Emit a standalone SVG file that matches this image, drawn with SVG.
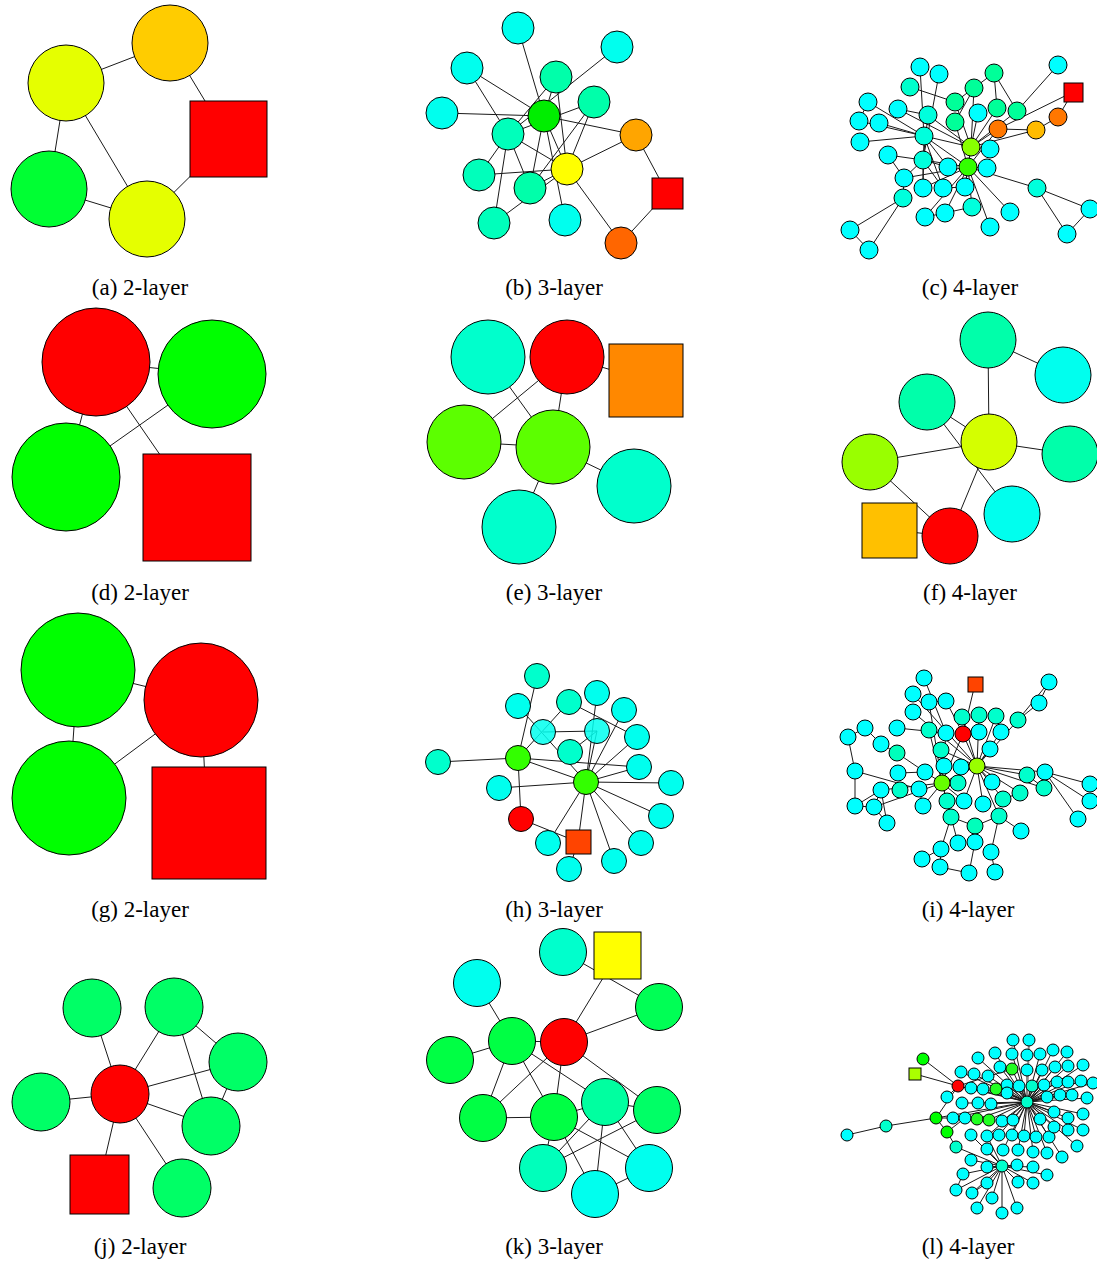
<svg xmlns="http://www.w3.org/2000/svg" width="1097" height="1264" viewBox="0 0 1097 1264">
<style>
.edges line,.edges path{stroke:#1a1a1a;stroke-width:1;fill:none}
.edges .gy{stroke:#888;stroke-width:2}
.nodes circle,.nodes rect{stroke:#000;stroke-width:1}
.cy{fill:#00ffff}.ce{fill:#00ffee}.tq{fill:#00ffcc}.tb{fill:#00ffbb}.ta{fill:#00ffaa}.tg{fill:#00ff99}.td{fill:#00ffdd}
.g0{fill:#00ff00}.g3{fill:#00ff33}.g6{fill:#00ff66}.g4{fill:#00ff44}.rd{fill:#ff0000}
text{font-family:"Liberation Serif","Times New Roman",serif;font-size:23px;text-anchor:middle;fill:#000}
</style>
<rect width="1097" height="1264" fill="#fff"/>
<g class="edges" id="connectors">
<!-- a -->
<line x1="66" y1="83" x2="170" y2="43"/><line x1="170" y1="43" x2="228" y2="139"/><line x1="66" y1="83" x2="49" y2="189"/><line x1="66" y1="83" x2="147" y2="219"/><line x1="49" y1="189" x2="147" y2="219"/><line x1="147" y1="219" x2="228" y2="139"/>
<!-- d -->
<line x1="96" y1="362" x2="212" y2="374"/><line x1="96" y1="362" x2="66" y2="477"/><line x1="66" y1="477" x2="212" y2="374"/><line x1="96" y1="362" x2="165" y2="462"/>
<!-- g -->
<line x1="78" y1="670" x2="201" y2="700"/><line x1="78" y1="670" x2="69" y2="798"/><line x1="69" y1="798" x2="201" y2="700"/><line x1="201" y1="700" x2="205" y2="780"/>
<!-- j -->
<path d="M120 1094L92 1008M120 1094L174 1007M120 1094L238 1062M120 1094L211 1126M120 1094L182 1188M120 1094L41 1102M120 1094L99 1184M174 1007L238 1062M174 1007L211 1126M238 1062L211 1126"/>
<!-- b -->
<path d="M518 28L544 116M617 47L508 134M467 68L544 116M467 68L508 134M442 113L544 116M556 77L544 116M556 77L508 134M556 77L567 169M594 102L508 134M594 102L567 169M544 116L636 135M544 116L567 169M544 116L530 188M544 116L565 220M508 134L567 169M508 134L530 188M508 134L494 223M479 175L508 134M479 175L567 169M530 188L567 169M494 223L567 169M567 169L636 135M567 169L621 243M636 135L667 193M667 193L621 243M594 102L530 188"/>
<!-- e -->
<path d="M567 357L646 380M488 357L553 447M567 357L464 442M567 357L553 447M464 442L553 447M553 447L634 486M553 447L519 527"/>
<!-- f -->
<path d="M988 340L1063 375M988 340L989 442M927 402L989 442M927 402L1012 514M989 442L1070 454M989 442L870 462M989 442L950 536M870 462L950 536M889 530L950 536"/>
<!-- h -->
<path d="M537 676L518 758M518 706L586 782M569 702L518 758M569 702L637 737M597 693L586 782M624 710L586 782M543 732L597 731M597 731L586 782M597 731L570 752M518 758L639 767M518 758L438 762M518 758L586 782M518 758L521 819M499 788L586 782M586 782L637 737M586 782L639 767M586 782L671 783M586 782L661 816M586 782L641 843M586 782L614 861M586 782L578 842M586 782L548 843M521 819L578 842M578 842L569 869"/>
<!-- k -->
<path d="M563 952L659 1007M617 955L564 1042M477 983L512 1041M659 1007L564 1042M512 1041L564 1042M512 1041L450 1060M512 1041L483 1118M512 1041L554 1117M512 1041L605 1102M564 1042L483 1118M564 1042L554 1117M564 1042L657 1110M483 1118L554 1117M554 1117L605 1102M554 1117L543 1168M554 1117L649 1168M554 1117L595 1194M605 1102L657 1110M605 1102L543 1168M605 1102L595 1194M605 1102L649 1168M657 1110L543 1168M649 1168L595 1194"/>
<!-- c -->
<path d="M1058 65L1017 111M1073 92L1058 117M1073 92L998 129M1058 117L1036 130M1036 130L998 129M1036 130L971 147M998 129L971 147M998 129L968 167M994 73L997 108M994 73L955 102M994 73L1017 111M974 88L955 122M974 88L971 147M920 67L924 136M939 74L923 160M910 87L955 102M868 102L859 121M868 102L924 136M898 109L928 115M898 109L971 147M955 102L971 147M997 108L971 147M1017 111L971 147M978 113L971 147M859 121L924 136M879 123L924 136M860 142L924 136M924 136L968 167M924 136L948 167M924 136L923 188M924 136L943 188M928 115L971 147M928 115L923 160M955 122L968 167M990 149L971 147M987 168L968 167M888 155L923 160M888 155L904 178M923 160L968 167M923 160L948 167M923 160L923 188M968 167L971 147M968 167L965 187M968 167L972 207M968 167L990 227M968 167L1037 188M968 167L1010 212M968 167L925 217M968 167L945 213M904 178L903 198M903 198L850 230M903 198L869 250M850 230L869 250M925 217L945 213M945 213L972 207M1037 188L1067 234M1037 188L1090 209M1067 234L1090 209M923 160L904 178M904 178L968 167M923 188L968 167M943 188L965 187M971 147L965 187M923 160L943 188M924 136L971 147"/>
<!-- i -->
<path d="M924 678L946 733M975 684L963 734M1049 682L1039 703M1049 682L1018 720M1039 703L1018 720M913 694L977 766M913 712L977 766M929 702L946 701M946 701L963 734M929 702L942 783M962 717L977 766M979 715L977 766M996 716L977 766M1018 720L977 766M1001 732L977 766M963 734L977 766M865 728L848 737M865 728L881 744M881 744L897 753M848 737L855 771M855 771L855 806M855 771L919 789M897 728L946 733M946 733L942 783M929 730L942 783M963 734L942 783M897 753L925 772M977 766L942 783M977 766L992 782M977 766L1020 793M977 766L1044 788M977 766L1027 775M977 766L1045 772M1045 772L1090 784M1045 772L1090 801M1045 772L1078 819M977 766L964 801M977 766L999 816M977 766L1003 799M977 766L983 804M898 773L925 772M925 772L942 783M942 783L881 790M942 783L874 807M942 783L923 806M942 783L947 801M942 783L951 817M942 783L964 801M881 790L874 807M881 790L855 806M855 806L874 807M874 807L887 823M881 790L887 823M951 817L975 826M951 817L958 843M951 817L941 849M975 826L975 842M975 842L969 873M941 849L922 859M941 849L940 867M940 867L969 873M991 852L995 872M999 816L975 826M999 816L1021 831M1020 793L1003 799M923 806L919 789M1027 775L1044 788M990 749L977 766M941 750L977 766M999 816L991 852"/>
<!-- l -->
<path d="M1027 1102L1013 1040M1027 1102L978 1058M1027 1102L995 1053M1027 1102L1012 1054M1027 1102L1040 1054M1027 1102L1053 1050M1027 1102L1067 1052M1027 1102L1000 1067M1027 1102L1012 1069M1027 1102L1027 1070M1027 1102L1042 1070M1027 1102L1055 1067M1027 1102L1068 1066M1027 1102L1083 1065M1027 1102L961 1072M1027 1102L974 1074M1027 1102L988 1076M1027 1102L1007 1085M1027 1102L1019 1086M1027 1102L1032 1086M1027 1102L1044 1085M1027 1102L1057 1082M1027 1102L1068 1082M1027 1102L1081 1081M1027 1102L1093 1083M1027 1102L958 1086M1027 1102L971 1088M1027 1102L983 1089M1027 1102L996 1089M1027 1102L1007 1093M1027 1102L978 1103M1027 1102L991 1104M1027 1102L1047 1097M1027 1102L1060 1095M1027 1102L1072 1095M1027 1102L1087 1098M1027 1102L936 1118M1027 1102L953 1118M1027 1102L977 1119M1027 1102L989 1120M1027 1102L1002 1121M1027 1102L1013 1120M1027 1102L1040 1119M1027 1102L1054 1112M1027 1102L1068 1118M1027 1102L1083 1114M1027 1102L987 1136M1027 1102L999 1135M1027 1102L1012 1135M1027 1102L1024 1136M1027 1102L1036 1137M1027 1102L1049 1137M1027 1102L1054 1127M1027 1102L1068 1130M1027 1102L1083 1130M1027 1102L1018 1150M1027 1102L1033 1152M1027 1102L1047 1153M1027 1102L1062 1157M1027 1102L1077 1146M1027 1102L1003 1150M1002 1166L987 1149M1002 1166L971 1160M1002 1166L987 1167M1002 1166L1017 1165M1002 1166L1033 1167M1002 1166L1047 1175M1002 1166L963 1174M1002 1166L987 1183M1002 1166L1018 1182M1002 1166L1033 1183M1002 1166L956 1190M1002 1166L972 1193M1002 1166L992 1198M1002 1166L977 1208M1002 1166L1017 1208M1002 1166L956 1147M1002 1166L971 1135M1002 1166L987 1136M958 1086L923 1059M958 1086L915 1074M958 1086L936 1118M958 1086L947 1097M936 1118L886 1126M886 1126L847 1135M936 1118L947 1132M936 1118L953 1118M947 1132L965 1118M947 1132L956 1147M963 1174L956 1190M972 1193L987 1183M962 1103L978 1103M958 1086L1012 1069"/>
<path class="gy" d="M1027 1102L1029 1040M1002 1166L1002 1213"/>
</g>
<g class="nodes">
<!-- a -->
<g id="a1"><circle cx="66" cy="83" r="38" fill="#e5ff00"/></g>
<g id="a2"><circle cx="170" cy="43" r="38" fill="#ffcc00"/></g>
<g id="a3"><rect x="190" y="101" width="77" height="76" class="rd"/></g>
<g id="a4"><circle cx="49" cy="189" r="38" class="g3"/></g>
<g id="a5"><circle cx="147" cy="219" r="38" fill="#e5ff00"/></g>
<!-- d -->
<g id="d1"><circle cx="96" cy="362" r="54" class="rd"/></g>
<g id="d2"><circle cx="212" cy="374" r="54" class="g0"/></g>
<g id="d3"><circle cx="66" cy="477" r="54" class="g0"/></g>
<g id="d4"><rect x="143" y="454" width="108" height="107" class="rd"/></g>
<!-- g -->
<g id="g1"><circle cx="78" cy="670" r="57" class="g0"/></g>
<g id="g2"><circle cx="201" cy="700" r="57" class="rd"/></g>
<g id="g3"><circle cx="69" cy="798" r="57" class="g0"/></g>
<g id="g4"><rect x="152" y="767" width="114" height="112" class="rd"/></g>
<!-- j -->
<g id="j0"><circle cx="120" cy="1094" r="29" class="rd"/></g>
<g id="j1"><circle cx="92" cy="1008" r="29" class="g6"/></g>
<g id="j2"><circle cx="174" cy="1007" r="29" class="g6"/></g>
<g id="j3"><circle cx="238" cy="1062" r="29" class="g6"/></g>
<g id="j4"><circle cx="211" cy="1126" r="29" class="g6"/></g>
<g id="j5"><circle cx="182" cy="1188" r="29" class="g6"/></g>
<g id="j6"><circle cx="41" cy="1102" r="29" class="g6"/></g>
<g id="j7"><rect x="70" y="1155" width="59" height="59" class="rd"/></g>
<!-- b -->
<g id="b1"><circle cx="518" cy="28" r="16" class="ce"/></g>
<g id="b2"><circle cx="617" cy="47" r="16" class="ce"/></g>
<g id="b3"><circle cx="467" cy="68" r="16" class="ce"/></g>
<g id="b4"><circle cx="556" cy="77" r="16" class="ta"/></g>
<g id="b5"><circle cx="594" cy="102" r="16" class="ta"/></g>
<g id="b6"><circle cx="442" cy="113" r="16" class="ce"/></g>
<g id="b8"><circle cx="508" cy="134" r="16" class="tb"/></g>
<g id="b7"><circle cx="544" cy="116" r="16" fill="#00ee00"/></g>
<g id="b9"><circle cx="636" cy="135" r="16" fill="#ffa500"/></g>
<g id="b11"><circle cx="479" cy="175" r="16" class="tb"/></g>
<g id="b12"><circle cx="530" cy="188" r="16" class="ta"/></g>
<g id="b10"><circle cx="567" cy="169" r="16" fill="#ffff00"/></g>
<g id="b13"><rect x="652" y="178" width="31" height="31" class="rd"/></g>
<g id="b14"><circle cx="494" cy="223" r="16" class="tb"/></g>
<g id="b15"><circle cx="565" cy="220" r="16" class="ce"/></g>
<g id="b16"><circle cx="621" cy="243" r="16" fill="#ff6600"/></g>
<!-- e -->
<g id="e1"><circle cx="488" cy="357" r="37" class="tq"/></g>
<g id="e2"><circle cx="567" cy="357" r="37" class="rd"/></g>
<g id="e7"><rect x="609" y="344" width="74" height="73" fill="#ff8800"/></g>
<g id="e3"><circle cx="464" cy="442" r="37" fill="#5cff00"/></g>
<g id="e4"><circle cx="553" cy="447" r="37" fill="#5cff00"/></g>
<g id="e5"><circle cx="634" cy="486" r="37" class="tq"/></g>
<g id="e6"><circle cx="519" cy="527" r="37" class="tq"/></g>
<!-- f -->
<g id="f1"><circle cx="988" cy="340" r="28" class="ta"/></g>
<g id="f2"><circle cx="1063" cy="375" r="28" class="ce"/></g>
<g id="f3"><circle cx="927" cy="402" r="28" class="ta"/></g>
<g id="f4"><circle cx="989" cy="442" r="28" fill="#d4ff00"/></g>
<g id="f5"><circle cx="1070" cy="454" r="28" class="ta"/></g>
<g id="f6"><circle cx="870" cy="462" r="28" fill="#99ff00"/></g>
<g id="f7"><circle cx="1012" cy="514" r="28" class="ce"/></g>
<g id="f8"><circle cx="950" cy="536" r="28" class="rd"/></g>
<g id="f9"><rect x="862" y="503" width="55" height="55" fill="#ffc000"/></g>
<!-- h -->
<g id="h1"><circle cx="537" cy="676" r="12.5" class="tq"/></g>
<g id="h2"><circle cx="518" cy="706" r="12.5" class="ce"/></g>
<g id="h3"><circle cx="569" cy="702" r="12.5" class="tq"/></g>
<g id="h4"><circle cx="597" cy="693" r="12.5" class="ce"/></g>
<g id="h5"><circle cx="624" cy="710" r="12.5" class="ce"/></g>
<g id="h6"><circle cx="543" cy="732" r="12.5" class="ce" fill-opacity="0.85"/></g>
<g id="h7"><circle cx="597" cy="731" r="12.5" class="ce" fill-opacity="0.85"/></g>
<g id="h8"><circle cx="637" cy="737" r="12.5" class="ce"/></g>
<g id="h9"><circle cx="570" cy="752" r="12.5" class="tq"/></g>
<g id="h10"><circle cx="438" cy="762" r="12.5" class="tq"/></g>
<g id="h11"><circle cx="639" cy="767" r="12.5" class="ce"/></g>
<g id="h12"><circle cx="499" cy="788" r="12.5" class="ce"/></g>
<g id="h13"><circle cx="671" cy="783" r="12.5" class="ce"/></g>
<g id="h14"><circle cx="661" cy="816" r="12.5" class="ce"/></g>
<g id="h15"><circle cx="548" cy="843" r="12.5" class="ce"/></g>
<g id="h16"><circle cx="641" cy="843" r="12.5" class="ce"/></g>
<g id="h17"><circle cx="614" cy="861" r="12.5" class="ce"/></g>
<g id="h18"><circle cx="569" cy="869" r="12.5" class="ce"/></g>
<g id="h19"><circle cx="518" cy="758" r="12.5" fill="#33ff00"/></g>
<g id="h20"><circle cx="586" cy="782" r="12.5" fill="#33ff00"/></g>
<g id="h21"><circle cx="521" cy="819" r="12.5" class="rd"/></g>
<g id="h22"><rect x="566" y="830" width="25" height="24" fill="#ff4400"/></g>
<!-- k -->
<g id="k1"><circle cx="563" cy="952" r="23.5" class="tq"/></g>
<g id="k13"><rect x="594" y="932" width="47" height="47" fill="#ffff00"/></g>
<g id="k2"><circle cx="477" cy="983" r="23.5" class="ce"/></g>
<g id="k3"><circle cx="659" cy="1007" r="23.5" fill="#00ff55"/></g>
<g id="k4"><circle cx="512" cy="1041" r="23.5" class="g4"/></g>
<g id="k0"><circle cx="564" cy="1042" r="23.5" class="rd"/></g>
<g id="k5"><circle cx="450" cy="1060" r="23.5" class="g4"/></g>
<g id="k6"><circle cx="605" cy="1102" r="23.5" fill="#00ffa0"/></g>
<g id="k7"><circle cx="657" cy="1110" r="23.5" class="g6"/></g>
<g id="k8"><circle cx="483" cy="1118" r="23.5" class="g4"/></g>
<g id="k9"><circle cx="554" cy="1117" r="23.5" class="g4"/></g>
<g id="k10"><circle cx="543" cy="1168" r="23.5" class="tb"/></g>
<g id="k11"><circle cx="649" cy="1168" r="23.5" class="ce"/></g>
<g id="k12"><circle cx="595" cy="1194" r="23.5" class="ce"/></g>
<!-- c -->
<g id="c1"><circle cx="920" cy="67" r="9" class="cy"/></g>
<g id="c2"><circle cx="939" cy="74" r="9" class="cy"/></g>
<g id="c3"><circle cx="994" cy="73" r="9" class="tg"/></g>
<g id="c4"><circle cx="1058" cy="65" r="9" class="cy"/></g>
<g id="c5"><rect x="1064" y="83" width="19" height="19" class="rd"/></g>
<g id="c6"><circle cx="910" cy="87" r="9" class="tq"/></g>
<g id="c7"><circle cx="974" cy="88" r="9" class="tg"/></g>
<g id="c8"><circle cx="868" cy="102" r="9" class="cy"/></g>
<g id="c9"><circle cx="898" cy="109" r="9" class="cy"/></g>
<g id="c10"><circle cx="955" cy="102" r="9" class="tg"/></g>
<g id="c11"><circle cx="997" cy="108" r="9" class="tg"/></g>
<g id="c12"><circle cx="1017" cy="111" r="9" class="tg"/></g>
<g id="c13"><circle cx="978" cy="113" r="9" class="cy"/></g>
<g id="c14"><circle cx="859" cy="121" r="9" class="cy"/></g>
<g id="c15"><circle cx="879" cy="123" r="9" class="cy"/></g>
<g id="c16"><circle cx="928" cy="115" r="9" class="td"/></g>
<g id="c17"><circle cx="955" cy="122" r="9" class="tg"/></g>
<g id="c18"><circle cx="998" cy="129" r="9" fill="#ff7700"/></g>
<g id="c19"><circle cx="1036" cy="130" r="9" fill="#ffbb00"/></g>
<g id="c20"><circle cx="1058" cy="117" r="9" fill="#ff7700"/></g>
<g id="c21"><circle cx="860" cy="142" r="9" class="cy"/></g>
<g id="c22"><circle cx="924" cy="136" r="9" class="td"/></g>
<g id="c24"><circle cx="990" cy="149" r="9" class="cy"/></g>
<g id="c25"><circle cx="888" cy="155" r="9" class="cy"/></g>
<g id="c26"><circle cx="923" cy="160" r="9" class="td"/></g>
<g id="c27"><circle cx="948" cy="167" r="9" class="cy"/></g>
<g id="c29"><circle cx="987" cy="168" r="9" class="cy"/></g>
<g id="c30"><circle cx="904" cy="178" r="9" class="cy"/></g>
<g id="c31"><circle cx="923" cy="188" r="9" class="cy"/></g>
<g id="c32"><circle cx="943" cy="188" r="9" class="cy"/></g>
<g id="c33"><circle cx="965" cy="187" r="9" class="cy"/></g>
<g id="c34"><circle cx="1037" cy="188" r="9" class="td"/></g>
<g id="c35"><circle cx="903" cy="198" r="9" class="td"/></g>
<g id="c36"><circle cx="972" cy="207" r="9" class="td"/></g>
<g id="c37"><circle cx="1010" cy="212" r="9" class="cy"/></g>
<g id="c38"><circle cx="925" cy="217" r="9" class="cy"/></g>
<g id="c39"><circle cx="945" cy="213" r="9" class="cy"/></g>
<g id="c40"><circle cx="1090" cy="209" r="9" class="cy"/></g>
<g id="c41"><circle cx="990" cy="227" r="9" class="cy"/></g>
<g id="c42"><circle cx="850" cy="230" r="9" class="cy"/></g>
<g id="c43"><circle cx="1067" cy="234" r="9" class="cy"/></g>
<g id="c44"><circle cx="869" cy="250" r="9" class="cy"/></g>
<g id="c23"><circle cx="971" cy="147" r="9" fill="#88ff00"/></g>
<g id="c28"><circle cx="968" cy="167" r="9" fill="#33ff00"/></g>
<!-- i -->
<g id="i1"><circle cx="924" cy="678" r="8" class="cy"/></g>
<g id="i2"><rect x="968" y="677" width="15" height="15" fill="#ff4400"/></g>
<g id="i3"><circle cx="1049" cy="682" r="8" class="cy"/></g>
<g id="i4"><circle cx="913" cy="694" r="8" class="cy"/></g>
<g id="i5"><circle cx="929" cy="702" r="8" class="cy"/></g>
<g id="i6"><circle cx="946" cy="701" r="8" class="cy"/></g>
<g id="i7"><circle cx="1039" cy="703" r="8" class="cy"/></g>
<g id="i8"><circle cx="913" cy="712" r="8" class="cy"/></g>
<g id="i9"><circle cx="962" cy="717" r="8" class="tq"/></g>
<g id="i10"><circle cx="979" cy="715" r="8" class="tq"/></g>
<g id="i11"><circle cx="996" cy="716" r="8" class="tq"/></g>
<g id="i12"><circle cx="1018" cy="720" r="8" class="tq"/></g>
<g id="i13"><circle cx="865" cy="728" r="8" class="cy"/></g>
<g id="i14"><circle cx="897" cy="728" r="8" class="cy"/></g>
<g id="i15"><circle cx="929" cy="730" r="8" class="tq"/></g>
<g id="i16"><circle cx="946" cy="733" r="8" class="cy"/></g>
<g id="i18"><circle cx="979" cy="732" r="8" class="cy"/></g>
<g id="i19"><circle cx="1001" cy="732" r="8" class="cy"/></g>
<g id="i17"><circle cx="963" cy="734" r="8" class="rd"/></g>
<g id="i20"><circle cx="848" cy="737" r="8" class="cy"/></g>
<g id="i21"><circle cx="881" cy="744" r="8" class="cy"/></g>
<g id="i22"><circle cx="941" cy="750" r="8" class="tq"/></g>
<g id="i23"><circle cx="897" cy="753" r="8" class="tb"/></g>
<g id="i24"><circle cx="990" cy="749" r="8" class="cy"/></g>
<g id="i26"><circle cx="944" cy="766" r="8" class="cy"/></g>
<g id="i27"><circle cx="961" cy="767" r="8" class="cy"/></g>
<g id="i28"><circle cx="855" cy="771" r="8" class="cy"/></g>
<g id="i29"><circle cx="898" cy="773" r="8" class="cy"/></g>
<g id="i30"><circle cx="925" cy="772" r="8" class="cy"/></g>
<g id="i31"><circle cx="1027" cy="775" r="8" class="tq"/></g>
<g id="i32"><circle cx="1045" cy="772" r="8" class="cy"/></g>
<g id="i33"><circle cx="1090" cy="784" r="8" class="cy"/></g>
<g id="i35"><circle cx="958" cy="783" r="8" class="tq"/></g>
<g id="i36"><circle cx="992" cy="782" r="8" class="cy"/></g>
<g id="i37"><circle cx="881" cy="790" r="8" class="cy"/></g>
<g id="i38"><circle cx="900" cy="790" r="8" class="tq"/></g>
<g id="i39"><circle cx="919" cy="789" r="8" class="cy"/></g>
<g id="i40"><circle cx="1020" cy="793" r="8" class="tq"/></g>
<g id="i41"><circle cx="1044" cy="788" r="8" class="tq"/></g>
<g id="i42"><circle cx="1090" cy="801" r="8" class="cy"/></g>
<g id="i43"><circle cx="855" cy="806" r="8" class="cy"/></g>
<g id="i44"><circle cx="874" cy="807" r="8" class="cy"/></g>
<g id="i45"><circle cx="923" cy="806" r="8" class="cy"/></g>
<g id="i46"><circle cx="947" cy="801" r="8" class="tq"/></g>
<g id="i47"><circle cx="964" cy="801" r="8" class="cy"/></g>
<g id="i48"><circle cx="983" cy="804" r="8" class="cy"/></g>
<g id="i49"><circle cx="1003" cy="799" r="8" class="tq"/></g>
<g id="i50"><circle cx="1078" cy="819" r="8" class="cy"/></g>
<g id="i51"><circle cx="887" cy="823" r="8" class="cy"/></g>
<g id="i52"><circle cx="951" cy="817" r="8" class="tq"/></g>
<g id="i53"><circle cx="999" cy="816" r="8" class="tq"/></g>
<g id="i54"><circle cx="975" cy="826" r="8" class="tb"/></g>
<g id="i55"><circle cx="1021" cy="831" r="8" class="cy"/></g>
<g id="i56"><circle cx="958" cy="843" r="8" class="cy"/></g>
<g id="i57"><circle cx="975" cy="842" r="8" class="cy"/></g>
<g id="i58"><circle cx="941" cy="849" r="8" class="cy"/></g>
<g id="i59"><circle cx="991" cy="852" r="8" class="cy"/></g>
<g id="i60"><circle cx="922" cy="859" r="8" class="cy"/></g>
<g id="i61"><circle cx="940" cy="867" r="8" class="cy"/></g>
<g id="i62"><circle cx="969" cy="873" r="8" class="cy"/></g>
<g id="i63"><circle cx="995" cy="872" r="8" class="cy"/></g>
<g id="i25"><circle cx="977" cy="766" r="8" fill="#99ff00"/></g>
<g id="i34"><circle cx="942" cy="783" r="8" fill="#66ff00"/></g>
<!-- l -->
<g id="l1"><circle cx="1013" cy="1040" r="6" class="cy"/></g>
<g id="l2"><circle cx="1029" cy="1040" r="6" class="cy"/></g>
<g id="l3"><circle cx="978" cy="1058" r="6" class="cy"/></g>
<g id="l4"><circle cx="995" cy="1053" r="6" class="cy"/></g>
<g id="l5"><circle cx="1012" cy="1054" r="6" class="cy"/></g>
<g id="l6"><circle cx="1027" cy="1055" r="6" class="cy"/></g>
<g id="l7"><circle cx="1040" cy="1054" r="6" class="cy"/></g>
<g id="l8"><circle cx="1053" cy="1050" r="6" class="cy"/></g>
<g id="l9"><circle cx="1067" cy="1052" r="6" class="cy"/></g>
<g id="l11"><circle cx="1000" cy="1067" r="6" class="cy"/></g>
<g id="l10"><circle cx="1012" cy="1069" r="6" fill="#22ff22"/></g>
<g id="l12"><circle cx="1027" cy="1070" r="6" class="cy"/></g>
<g id="l13"><circle cx="1042" cy="1070" r="6" class="cy"/></g>
<g id="l14"><circle cx="1055" cy="1067" r="6" class="cy"/></g>
<g id="l15"><circle cx="1068" cy="1066" r="6" class="cy"/></g>
<g id="l16"><circle cx="1083" cy="1065" r="6" class="cy"/></g>
<g id="l17"><circle cx="961" cy="1072" r="6" class="cy"/></g>
<g id="l18"><circle cx="974" cy="1074" r="6" class="cy"/></g>
<g id="l19"><circle cx="988" cy="1076" r="6" class="cy"/></g>
<g id="l20"><circle cx="1007" cy="1085" r="6" class="cy"/></g>
<g id="l21"><circle cx="1019" cy="1086" r="6" class="cy"/></g>
<g id="l22"><circle cx="1032" cy="1086" r="6" class="tq"/></g>
<g id="l23"><circle cx="1044" cy="1085" r="6" class="cy"/></g>
<g id="l24"><circle cx="1057" cy="1082" r="6" class="cy"/></g>
<g id="l25"><circle cx="1068" cy="1082" r="6" class="cy"/></g>
<g id="l26"><circle cx="1081" cy="1081" r="6" class="cy"/></g>
<g id="l27"><circle cx="1093" cy="1083" r="6" class="cy"/></g>
<g id="l28"><circle cx="971" cy="1088" r="6" class="cy"/></g>
<g id="l29"><circle cx="983" cy="1089" r="6" class="cy"/></g>
<g id="l30"><circle cx="996" cy="1089" r="6" fill="#22ff22"/></g>
<g id="l31"><circle cx="1007" cy="1093" r="6" class="cy"/></g>
<g id="l32"><circle cx="962" cy="1103" r="6" class="cy"/></g>
<g id="l33"><circle cx="978" cy="1103" r="6" class="cy"/></g>
<g id="l34"><circle cx="991" cy="1104" r="6" class="cy"/></g>
<g id="l35"><circle cx="1047" cy="1097" r="6" class="cy"/></g>
<g id="l36"><circle cx="1060" cy="1095" r="6" class="cy"/></g>
<g id="l37"><circle cx="1072" cy="1095" r="6" class="cy"/></g>
<g id="l38"><circle cx="1087" cy="1098" r="6" class="cy"/></g>
<g id="l39"><circle cx="953" cy="1118" r="6" class="cy"/></g>
<g id="l40"><circle cx="965" cy="1118" r="6" class="cy"/></g>
<g id="l41"><circle cx="977" cy="1119" r="6" fill="#22ff22"/></g>
<g id="l42"><circle cx="989" cy="1120" r="6" fill="#22ff22"/></g>
<g id="l43"><circle cx="1002" cy="1121" r="6" class="cy"/></g>
<g id="l44"><circle cx="1013" cy="1120" r="6" class="cy"/></g>
<g id="l45"><circle cx="1040" cy="1119" r="6" class="cy"/></g>
<g id="l46"><circle cx="1054" cy="1112" r="6" class="cy"/></g>
<g id="l47"><circle cx="1068" cy="1118" r="6" class="cy"/></g>
<g id="l48"><circle cx="1083" cy="1114" r="6" class="cy"/></g>
<g id="l49"><circle cx="971" cy="1135" r="6" class="cy"/></g>
<g id="l50"><circle cx="987" cy="1136" r="6" class="cy"/></g>
<g id="l51"><circle cx="999" cy="1135" r="6" class="cy"/></g>
<g id="l52"><circle cx="1012" cy="1135" r="6" class="cy"/></g>
<g id="l53"><circle cx="1024" cy="1136" r="6" class="cy"/></g>
<g id="l54"><circle cx="1036" cy="1137" r="6" class="cy"/></g>
<g id="l55"><circle cx="1049" cy="1137" r="6" class="cy"/></g>
<g id="l56"><circle cx="1054" cy="1127" r="6" class="cy"/></g>
<g id="l57"><circle cx="1068" cy="1130" r="6" class="cy"/></g>
<g id="l58"><circle cx="1083" cy="1130" r="6" class="cy"/></g>
<g id="l59"><circle cx="987" cy="1149" r="6" class="cy"/></g>
<g id="l60"><circle cx="1003" cy="1150" r="6" class="cy"/></g>
<g id="l61"><circle cx="1018" cy="1150" r="6" class="cy"/></g>
<g id="l62"><circle cx="1033" cy="1152" r="6" class="cy"/></g>
<g id="l63"><circle cx="1047" cy="1153" r="6" class="cy"/></g>
<g id="l64"><circle cx="1062" cy="1157" r="6" class="cy"/></g>
<g id="l65"><circle cx="1077" cy="1146" r="6" class="cy"/></g>
<g id="l66"><circle cx="971" cy="1160" r="6" class="cy"/></g>
<g id="l67"><circle cx="987" cy="1167" r="6" class="cy"/></g>
<g id="l68"><circle cx="1017" cy="1165" r="6" class="cy"/></g>
<g id="l69"><circle cx="1033" cy="1167" r="6" class="cy"/></g>
<g id="l70"><circle cx="1047" cy="1175" r="6" class="cy"/></g>
<g id="l71"><circle cx="963" cy="1174" r="6" class="cy"/></g>
<g id="l72"><circle cx="987" cy="1183" r="6" class="cy"/></g>
<g id="l73"><circle cx="1018" cy="1182" r="6" class="cy"/></g>
<g id="l74"><circle cx="1033" cy="1183" r="6" class="cy"/></g>
<g id="l75"><circle cx="956" cy="1190" r="6" class="cy"/></g>
<g id="l76"><circle cx="972" cy="1193" r="6" class="cy"/></g>
<g id="l77"><circle cx="992" cy="1198" r="6" class="cy"/></g>
<g id="l78"><circle cx="977" cy="1208" r="6" class="cy"/></g>
<g id="l79"><circle cx="1002" cy="1213" r="6" class="cy"/></g>
<g id="l80"><circle cx="1017" cy="1208" r="6" class="cy"/></g>
<g id="l81"><circle cx="947" cy="1097" r="6" class="cy"/></g>
<g id="l82"><circle cx="886" cy="1126" r="6" class="tq"/></g>
<g id="l83"><circle cx="847" cy="1135" r="6" class="cy"/></g>
<g id="l84"><circle cx="956" cy="1147" r="6" class="tq"/></g>
<g id="l85"><circle cx="923" cy="1059" r="6" class="g0"/></g>
<g id="l86"><rect x="909" y="1068" width="12" height="12" fill="#aaff00"/></g>
<g id="l87"><circle cx="936" cy="1118" r="6" class="g0"/></g>
<g id="l88"><circle cx="947" cy="1132" r="6" class="g0"/></g>
<g id="l89"><circle cx="958" cy="1086" r="6" class="rd"/></g>
<g id="l90"><circle cx="1027" cy="1102" r="6" class="tq"/></g>
<g id="l91"><circle cx="1002" cy="1166" r="6" class="tq"/></g>
</g>
<g id="labels">
<text x="140" y="295">(a) 2-layer</text>
<text x="554" y="295">(b) 3-layer</text>
<text x="970" y="295">(c) 4-layer</text>
<text x="140" y="600">(d) 2-layer</text>
<text x="554" y="600">(e) 3-layer</text>
<text x="970" y="600">(f) 4-layer</text>
<text x="140" y="917">(g) 2-layer</text>
<text x="554" y="917">(h) 3-layer</text>
<text x="968" y="917">(i) 4-layer</text>
<text x="140" y="1254">(j) 2-layer</text>
<text x="554" y="1254">(k) 3-layer</text>
<text x="968" y="1254">(l) 4-layer</text>
</g>
</svg>
